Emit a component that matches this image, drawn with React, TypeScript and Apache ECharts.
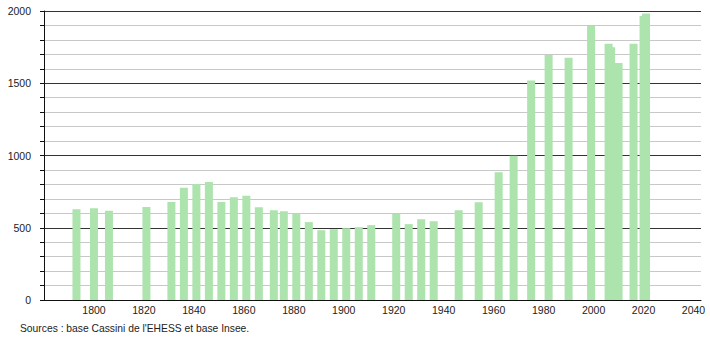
import React, { useEffect, useRef } from "react";
import * as echarts from "echarts";

const years = [1793, 1800, 1806, 1821, 1831, 1836, 1841, 1846, 1851, 1856, 1861, 1866, 1872, 1876, 1881, 1886, 1891, 1896, 1901, 1906, 1911, 1921, 1926, 1931, 1936, 1946, 1954, 1962, 1968, 1975, 1982, 1990, 1999, 2006, 2007, 2010, 2016, 2020, 2021];
const population = [628, 635, 617, 644, 679, 776, 803, 817, 679, 711, 722, 642, 621, 614, 601, 539, 483, 490, 497, 504, 518, 596, 525, 559, 545, 621, 677, 884, 999, 1519, 1696, 1676, 1896, 1774, 1749, 1640, 1774, 1965, 1982];
const sourceText = "Sources : base Cassini de l'EHESS et base Insee.";

export default function App() {
  const ref = useRef<HTMLDivElement>(null);
  useEffect(() => {
    document.body.style.margin = "0";
    if (!ref.current) return;
    const chart = echarts.init(ref.current, undefined, { renderer: "svg" });
    const font = "'Liberation Sans', Arial, sans-serif";
    chart.setOption({
      animation: false,
      grid: { left: 44, right: 9, top: 11, bottom: 40, containLabel: false },
      xAxis: {
        type: "value",
        min: 1780,
        max: 2043,
        interval: 20,
        axisLine: { show: true, lineStyle: { color: "#111", width: 1 } },
        axisTick: { show: false },
        splitLine: { show: false },
        axisLabel: {
          margin: 4,
          fontSize: 10.5,
          fontFamily: font,
          color: "#222",
          showMaxLabel: false,
          showMinLabel: false,
          formatter: (v: number) => (v % 20 === 0 && v > 1780 ? String(v) : ""),
        },
      },
      yAxis: {
        type: "value",
        min: 0,
        max: 2000,
        interval: 100,
        axisLine: { show: true, onZero: false, lineStyle: { color: "#111", width: 1 } },
        axisTick: { show: true, length: 4, lineStyle: { color: "#111" } },
        splitLine: {
          show: true,
          lineStyle: { color: ["#333", "#c8c8c8", "#c8c8c8", "#c8c8c8", "#c8c8c8"], width: 1 },
        },
        axisLabel: {
          margin: 13,
          fontSize: 10.5,
          fontFamily: font,
          color: "#222",
          formatter: (v: number) => (v % 500 === 0 ? String(v) : ""),
        },
      },
      series: [
        {
          type: "bar",
          barWidth: 8,
          data: years.map((y, i) => [y, population[i]]),
          itemStyle: { color: "#ade3ad" },
        },
      ],
      graphic: [
        {
          type: "text",
          left: 20,
          top: 323,
          style: { text: sourceText, fontSize: 10.3, fontFamily: font, fill: "#222" },
        },
      ],
    });
    return () => chart.dispose();
  }, []);
  return <div ref={ref} style={{ width: 710, height: 340 }} />;
}
